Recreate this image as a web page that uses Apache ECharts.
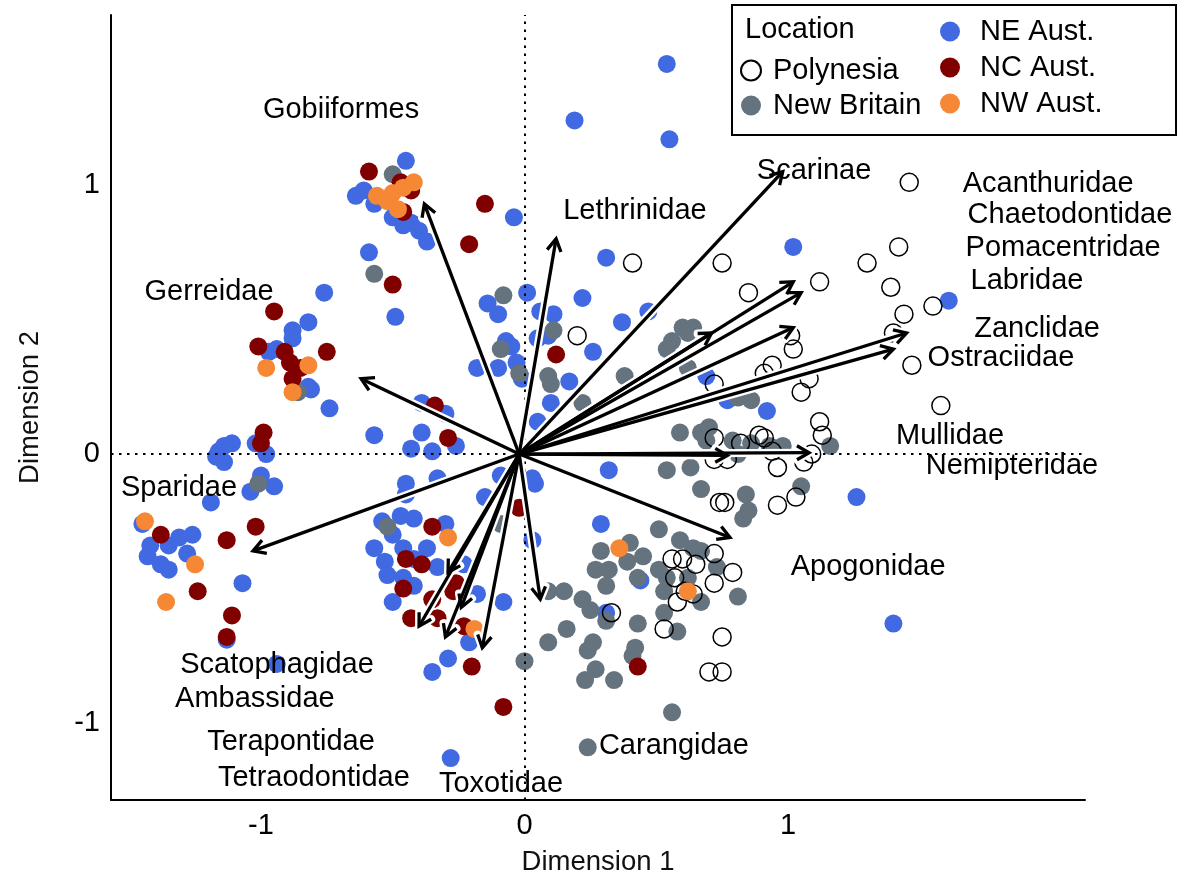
<!DOCTYPE html>
<html><head><meta charset="utf-8">
<script src="https://cdn.jsdelivr.net/npm/echarts@6/dist/echarts.min.js"></script>
<style>html,body{margin:0;padding:0;background:#fff}#c{width:1187px;height:881px}</style>
</head><body><div id="c"></div>
<script>
const xTicks = [-1, 0, 1];
const yTicks = [-1, 0, 1];

const polynesia = [[0.20,0.44],[0.41,0.71],[0.75,0.71],[0.85,0.60],[1.12,0.64],[1.30,0.71],[1.42,0.77],[1.46,1.01],[1.39,0.62],[1.55,0.55],[1.44,0.52],[1.40,0.45],[1.47,0.33],[1.58,0.18],[1.01,0.44],[1.02,0.39],[0.94,0.33],[0.91,0.30],[1.08,0.28],[1.05,0.23],[0.72,0.26],[1.12,0.12],[1.13,0.07],[0.89,0.07],[0.72,0.06],[0.82,0.04],[0.91,0.06],[0.94,0.01],[1.09,0.00],[1.06,-0.03],[0.96,-0.05],[0.72,-0.02],[0.77,-0.02],[0.74,-0.18],[0.76,-0.18],[0.96,-0.19],[1.03,-0.16],[0.56,-0.39],[0.60,-0.39],[0.65,-0.41],[0.72,-0.37],[0.79,-0.44],[0.57,-0.46],[0.72,-0.48],[0.61,-0.51],[0.64,-0.52],[0.58,-0.55],[0.33,-0.59],[0.53,-0.65],[0.75,-0.68],[0.70,-0.81],[0.75,-0.81]];

const newBritain = [[-0.50,1.04],[-0.57,0.67],[-0.86,0.23],[-1.01,-0.11],[-0.08,0.59],[0.11,0.46],[-0.09,0.39],[-0.02,0.30],[0.09,0.29],[0.10,0.26],[0.22,0.19],[0.60,0.47],[0.64,0.47],[0.62,0.45],[0.56,0.42],[0.54,0.39],[0.38,0.29],[0.62,0.32],[0.81,0.21],[0.86,0.20],[0.59,0.08],[0.67,0.08],[0.70,0.10],[0.81,0.00],[0.86,0.04],[0.98,0.03],[0.93,0.03],[1.16,0.03],[0.69,0.05],[0.79,0.05],[0.54,-0.06],[0.63,-0.05],[0.67,-0.13],[0.84,-0.15],[1.05,-0.12],[0.83,-0.24],[0.85,-0.21],[0.51,-0.28],[0.29,-0.36],[0.40,-0.33],[0.45,-0.38],[0.27,-0.43],[0.32,-0.43],[0.39,-0.40],[0.31,-0.49],[0.43,-0.46],[0.51,-0.43],[0.59,-0.32],[0.64,-0.35],[0.67,-0.36],[0.73,-0.42],[0.53,-0.51],[0.67,-0.55],[0.81,-0.53],[0.54,-0.46],[0.62,-0.46],[0.15,-0.51],[0.22,-0.54],[0.25,-0.58],[0.31,-0.62],[0.43,-0.63],[0.53,-0.59],[0.58,-0.66],[0.16,-0.65],[0.09,-0.70],[0.00,-0.77],[0.24,-0.73],[0.26,-0.70],[0.42,-0.72],[0.41,-0.75],[0.27,-0.80],[0.23,-0.84],[0.34,-0.84],[0.56,-0.96],[0.24,-1.09],[0.09,-0.51],[-0.52,-0.27],[-0.09,-0.26]];

const neAust = [[0.54,1.45],[0.19,1.24],[0.55,1.17],[1.02,0.77],[0.31,0.73],[1.26,-0.16],[1.40,-0.63],[1.61,0.57],[-0.04,0.88],
[-0.45,1.09],[-0.64,0.96],[-0.61,0.98],[-0.57,0.93],[-0.50,0.88],[-0.46,0.85],[-0.43,0.86],[-0.40,0.83],[-0.37,0.79],[-0.59,0.75],[-0.49,0.51],
[-0.76,0.60],[-0.82,0.49],[-0.88,0.46],[-0.88,0.43],[-0.94,0.39],[-0.97,0.38],[-0.82,0.25],[-0.81,0.24],[-0.74,0.17],[-0.57,0.07],[-1.11,0.04],[-1.14,0.03],[-1.16,0.01],[-0.98,0.00],[-1.02,0.04],
[-1.17,-0.01],[-1.14,-0.03],[-1.00,-0.08],[-0.95,-0.12],[-1.04,-0.14],[-1.19,-0.18],[-1.45,-0.26],[-1.42,-0.34],[-1.43,-0.38],[-1.35,-0.34],[-1.31,-0.31],[-1.26,-0.30],[-1.28,-0.37],[-1.38,-0.41],[-1.35,-0.43],[-1.07,-0.48],[-1.13,-0.69],[-0.94,-0.78],
[-0.14,0.56],[-0.10,0.52],[0.01,0.60],[0.06,0.53],[0.11,0.52],[0.22,0.58],[0.37,0.49],[0.47,0.53],[0.05,0.43],[0.09,0.44],[0.26,0.38],[-0.07,0.42],[-0.05,0.40],[-0.03,0.34],[-0.01,0.28],[-0.10,0.32],[-0.18,0.32],[0.17,0.27],[0.10,0.19],[0.05,0.12],[0.69,0.29],[0.77,0.20],[0.92,0.16],[0.32,-0.06],[0.04,-0.11],[0.03,-0.09],[0.03,-0.32],[0.29,-0.26],[0.44,-0.47],[0.31,-0.59],
[-0.39,0.19],[-0.30,0.15],[-0.39,0.08],[-0.43,0.02],[-0.35,0.01],[-0.26,0.03],
[-0.45,-0.11],[-0.33,-0.09],[-0.45,-0.15],[-0.15,-0.16],[-0.09,-0.08],[-0.54,-0.25],[-0.42,-0.24],[-0.30,-0.26],[-0.50,-0.30],[-0.46,-0.35],[-0.37,-0.35],[-0.53,-0.40],[-0.52,-0.45],[-0.46,-0.46],[-0.42,-0.49],[-0.33,-0.42],[-0.50,-0.55],[-0.23,-0.41],[-0.18,-0.52],[-0.08,-0.55],[-0.21,-0.70],[-0.29,-0.76],[-0.35,-0.81],[-0.28,-1.13],[-0.47,-0.23],[-0.57,-0.35],[-0.42,-0.39]];

const ncAust = [[-0.59,1.05],[-0.47,1.01],[-0.43,0.98],[-0.46,0.90],[-0.15,0.93],[-0.21,0.78],[-0.50,0.63],[-0.95,0.53],[-1.01,0.40],[-0.91,0.38],[-0.89,0.34],[-0.85,0.32],[-0.75,0.38],[-0.88,0.28],[-0.99,0.08],[-1.00,0.04],[-1.38,-0.30],[-1.13,-0.32],[-1.02,-0.27],[-1.24,-0.51],[-1.11,-0.60],[-1.13,-0.68],[-0.34,0.18],[-0.29,0.06],[0.12,0.37],[-0.02,-0.20],[-0.35,-0.27],[-0.45,-0.39],[-0.39,-0.41],[-0.46,-0.50],[-0.43,-0.61],[-0.35,-0.54],[-0.26,-0.48],[-0.27,-0.51],[-0.33,-0.61],[-0.23,-0.64],[-0.20,-0.79],[-0.08,-0.94],[0.43,-0.79]];

const nwAust = [[-0.56,0.96],[-0.50,0.97],[-0.46,0.99],[-0.42,1.01],[-0.48,0.91],[-0.52,0.94],[-0.98,0.32],[-0.82,0.33],[-0.88,0.23],[-1.44,-0.25],[-1.25,-0.41],[-1.36,-0.55],[-0.29,-0.31],[-0.19,-0.65],[0.36,-0.35],[0.62,-0.51]];

const arrowOrigin = [-0.02, 0];
const arrowNames = ['Gobiiformes','Lethrinidae','Gerreidae','Sparidae','Scarinae','Acanthuridae','Chaetodontidae','Pomacentridae','Labridae','Zanclidae','Ostraciidae','Mullidae','Nemipteridae','Apogonidae','Carangidae','Scatophagidae','Ambassidae','Terapontidae','Tetraodontidae','Toxotidae'];
const arrowTips = [[-0.38,0.93],[0.12,0.80],[-0.62,0.28],[-1.03,-0.36],[0.98,1.05],[1.02,0.64],[1.05,0.60],[0.71,0.45],[1.02,0.47],[1.45,0.45],[1.40,0.39],[1.08,0.005],[0.77,-0.005],[0.78,-0.31],[0.06,-0.54],[-0.29,-0.44],[-0.40,-0.64],[-0.30,-0.68],[-0.24,-0.57],[-0.16,-0.72]];
const labelPos = [[-0.696,1.279],[0.419,0.903],[-1.197,0.602],[-1.311,-0.126],[1.099,1.052],[1.987,1.004],[2.070,0.888],[2.044,0.766],[1.907,0.643],[1.945,0.465],[1.808,0.357],[1.615,0.067],[1.850,-0.045],[1.304,-0.420],[0.567,-1.086],[-0.939,-0.784],[-1.023,-0.911],[-0.886,-1.071],[-0.799,-1.204],[-0.089,-1.227]];

const FONT = '"Liberation Sans", Arial, sans-serif';
const COL = {ne:'#4169E1', nc:'#800000', nw:'#F58735', nb:'#65737E'};

function arrowItem(halo) {
  return function (params, api) {
    const p0 = api.coord(arrowOrigin);
    const p1 = api.coord([api.value(0), api.value(1)]);
    const ang = Math.atan2(p1[1] - p0[1], p1[0] - p0[0]);
    const L = 14, A = Math.PI / 6;
    const w1 = [p1[0] - L * Math.cos(ang - A), p1[1] - L * Math.sin(ang - A)];
    const w2 = [p1[0] - L * Math.cos(ang + A), p1[1] - L * Math.sin(ang + A)];
    const st = halo ? {stroke:'#fff', lineWidth:8, fill:null, lineCap:'round', lineJoin:'round'}
                    : {stroke:'#000', lineWidth:3.3, fill:null, lineCap:'butt', lineJoin:'miter'};
    return {type:'group', children:[
      {type:'line', shape:{x1:p0[0], y1:p0[1], x2:p1[0], y2:p1[1]}, style:st},
      {type:'polyline', shape:{points:[w1, p1, w2]}, style:st}
    ]};
  };
}

const chart = echarts.init(document.getElementById('c'));
const pt = (name, data, color, z) => ({
  name, type:'scatter', data, symbolSize:18, z,
  itemStyle: color ? {color, opacity:1} : {color:'rgba(255,255,255,0)', borderColor:'#000', borderWidth:1.5, opacity:1},
  emphasis:{disabled:true}
});

chart.setOption({
  animation:false,
  backgroundColor:'#fff',
  textStyle:{fontFamily:FONT},
  grid:{left:111, right:102, top:15, bottom:81, containLabel:false},
  xAxis:{type:'value', min:-1.569, max:2.127,
    axisLine:{show:true, onZero:false, lineStyle:{color:'#000', width:2}},
    axisTick:{show:false}, splitLine:{show:false},
    axisLabel:{customValues:xTicks, fontSize:29, color:'#000', margin:11, fontFamily:FONT},
    name:'Dimension 1', nameLocation:'middle', nameGap:48,
    nameTextStyle:{fontSize:27.5, color:'#111', fontFamily:FONT}},
  yAxis:{type:'value', min:-1.286, max:1.632,
    axisLine:{show:true, onZero:false, lineStyle:{color:'#000', width:2}},
    axisTick:{show:false}, splitLine:{show:false},
    axisLabel:{customValues:yTicks, fontSize:29, color:'#000', margin:11, fontFamily:FONT},
    name:'Dimension 2', nameLocation:'middle', nameGap:67,
    nameTextStyle:{fontSize:27.5, color:'#111', fontFamily:FONT}},
  legend:[
    {data:['Polynesia','New Britain'], orient:'vertical', left:740, top:56, padding:0,
     itemWidth:20, itemHeight:20, itemGap:6, icon:'circle',
     textStyle:{fontSize:29, color:'#000', fontFamily:FONT, padding:[0,0,0,7]}},
    {data:['NE Aust.','NC Aust.','NW Aust.'], orient:'vertical', left:940, top:17, padding:0,
     itemWidth:20, itemHeight:20, itemGap:7, icon:'circle',
     textStyle:{fontSize:29, color:'#000', fontFamily:FONT, padding:[0,0,0,15]}}
  ],
  graphic:[
    {type:'rect', shape:{x:732, y:5, width:444, height:130}, style:{fill:null, stroke:'#000', lineWidth:2}, z:1},
    {type:'text', x:745, y:30, style:{text:'Location', fontSize:29, fontFamily:FONT, fill:'#000', verticalAlign:'middle'}, z:5}
  ],
  series:[
    Object.assign(pt('NE Aust.', neAust, COL.ne, 2), {
      markLine:{silent:true, symbol:'none', label:{show:false},
        lineStyle:{type:[2.5,5.5], color:'#000', width:2},
        emphasis:{disabled:true},
        data:[{xAxis:0},{yAxis:0}]}
    }),
    pt('New Britain', newBritain, COL.nb, 3),
    pt('Polynesia', polynesia, null, 4),
    pt('NC Aust.', ncAust, COL.nc, 5),
    pt('NW Aust.', nwAust, COL.nw, 6),
    {type:'custom', name:'halo', z:7, silent:true, clip:false, data:arrowTips, renderItem:arrowItem(true)},
    {type:'custom', name:'arrows', z:8, silent:true, clip:false, data:arrowTips, renderItem:arrowItem(false)},
    {type:'custom', name:'labels', z:9, silent:true, clip:false, data:labelPos,
      renderItem:function(params, api){
        const p = api.coord([api.value(0), api.value(1)]);
        return {type:'text', x:p[0], y:p[1], style:{text:arrowNames[params.dataIndex], fontSize:29, fontFamily:FONT, fill:'#000', align:'center', verticalAlign:'middle'}};
      }}
  ]
});
</script></body></html>
